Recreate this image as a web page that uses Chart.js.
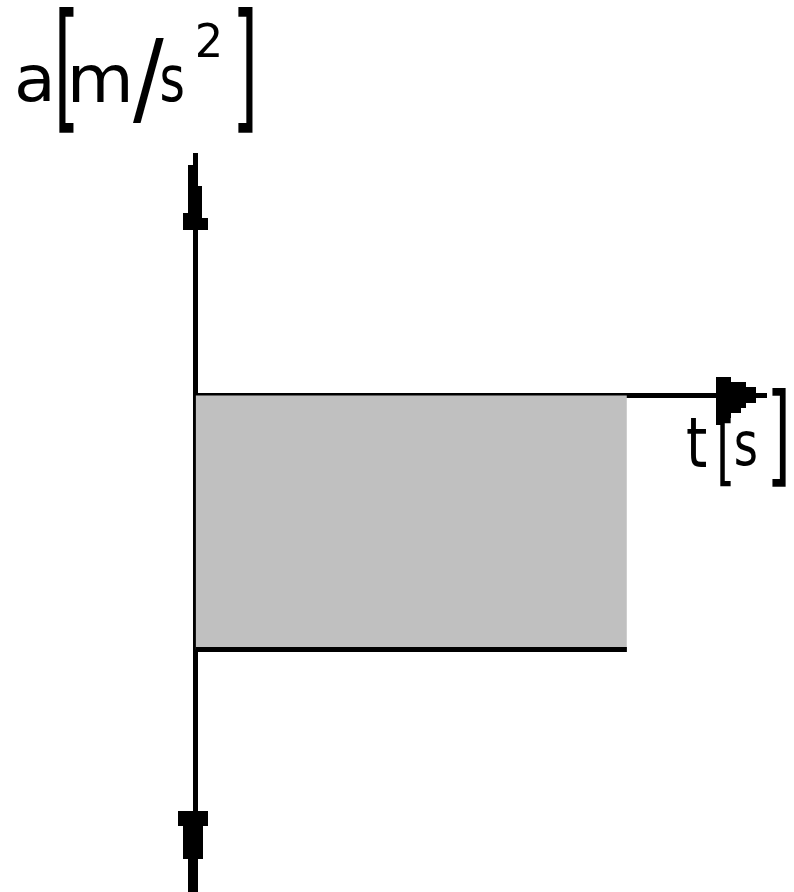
<!DOCTYPE html>
<html>
<head>
<meta charset="utf-8">
<script src="https://cdn.jsdelivr.net/npm/chart.js@4.4.1/dist/chart.umd.min.js"></script>
<style>
  body { margin: 0; background: #fff; }
  #wrap { width: 794px; height: 892px; position: relative; }
</style>
</head>
<body>
<div id="wrap"><canvas id="accelChart"></canvas></div>
<script>
// Data: constant (negative) acceleration over time
const timeValues = [0, 4];
const accelValues = [-2, -2];

// Axis ranges (t and a)
const tRange = [0, 5.29];
const aRange = [-3.91, 1.894];

const FILL_GRAY = '#c0c0c0';

// Draws a text so its ink fits the given box
function fitText(ctx, str, x0, y0, x1, y1, weight) {
    ctx.save();
    ctx.font = (weight || 'normal') + ' 100px "DejaVu Sans"';
    const m = ctx.measureText(str);
    const w = m.actualBoundingBoxLeft + m.actualBoundingBoxRight;
    const h = m.actualBoundingBoxAscent + m.actualBoundingBoxDescent;
    ctx.translate(x0, y0);
    ctx.scale((x1 - x0) / w, (y1 - y0) / h);
    ctx.textAlign = 'left';
    ctx.textBaseline = 'alphabetic';
    ctx.fillStyle = '#000';
    ctx.fillText(str, m.actualBoundingBoxLeft, m.actualBoundingBoxAscent);
    ctx.restore();
}

// Stepped arrow heads like the original bitmap (whole pixels, no seams)
function drawSteps(ctx, steps) {
    ctx.fillStyle = '#000';
    steps.forEach(s => {
        const x0 = Math.round(s[0]), x1 = Math.round(s[1]);
        const y0 = Math.round(s[2]), y1 = Math.round(s[3]);
        ctx.fillRect(x0, y0, x1 - x0, y1 - y0);
    });
}

const arrowsAndLabels = {
    id: 'arrowsAndLabels',
    afterDraw(chart) {
        const ctx = chart.ctx;
        const xs = chart.scales.x, ys = chart.scales.y;
        const cx = Math.floor(xs.getPixelForValue(0)) + 0.5;
        const cy = Math.floor(ys.getPixelForValue(0));
        const top = chart.chartArea.top;
        const bottom = chart.chartArea.bottom;
        const right = Math.round(chart.chartArea.right);

        // top arrow
        drawSteps(ctx, [
            [cx - 2.5, cx + 2.5, top, top + 10],
            [cx - 7.5, cx + 2.5, top + 10, top + 31],
            [cx - 7.5, cx + 6.5, top + 31, top + 58],
            [cx - 12.5, cx + 6.5, top + 58, top + 63],
            [cx - 12.5, cx + 12.5, top + 63, top + 75]
        ]);
        // bottom arrow
        drawSteps(ctx, [
            [cx - 17.5, cx + 12.5, bottom - 81, bottom - 66],
            [cx - 12.5, cx + 7.5, bottom - 66, bottom - 33],
            [cx - 7.5, cx + 2.5, bottom - 33, bottom]
        ]);
        // right arrow
        const ax = right - 50;
        drawSteps(ctx, [
            [ax, ax + 15, cy - 18, cy - 13],
            [ax, ax + 30, cy - 13, cy - 8],
            [ax, ax + 40, cy - 8, cy + 8],
            [ax, ax + 30, cy + 8, cy + 13],
            [ax, ax + 25, cy + 13, cy + 18],
            [ax, ax + 15, cy + 18, cy + 23],
            [ax, ax + 5, cy + 23, cy + 30]
        ]);

        // y label: a[m/s²]
        fitText(ctx, 'a', 18, 65, 50, 102);
        fitText(ctx, '[', 59, 6, 74, 132);
        fitText(ctx, 'm', 73, 65, 128, 102);
        fitText(ctx, '/', 133, 38, 164, 122);
        fitText(ctx, 's', 162, 65, 183, 102);
        fitText(ctx, '2', 198, 22, 219, 57);
        fitText(ctx, ']', 238, 6, 253, 132);

        // x label: t[s]
        fitText(ctx, 't', 687, 419, 706, 467);
        fitText(ctx, '[', 720, 418, 731, 486);
        fitText(ctx, 's', 736, 431, 756, 466);
        fitText(ctx, ']', 772, 388, 786, 486);
    }
};

const axisOpts = (min, max, pos) => ({
    type: 'linear',
    min: min,
    max: max,
    position: pos,
    z: 1,
    ticks: { display: false },
    grid: { display: false },
    border: { display: true, color: '#000', width: 5 }
});

const config = {
    type: 'line',
    data: {
        datasets: [{
            data: timeValues.map((t, i) => ({ x: t, y: accelValues[i] })),
            borderColor: '#000',
            borderWidth: 5,
            borderCapStyle: 'butt',
            backgroundColor: FILL_GRAY,
            fill: 'origin',
            pointRadius: 0,
            tension: 0
        }]
    },
    options: {
        responsive: true,
        maintainAspectRatio: false,
        animation: false,
        layout: { padding: { left: 195.5, right: 28, top: 155, bottom: 0 } },
        plugins: {
            legend: { display: false },
            tooltip: { enabled: false }
        },
        scales: {
            x: axisOpts(tRange[0], tRange[1], { y: 0 }),
            y: axisOpts(aRange[0], aRange[1], { x: 0 })
        }
    },
    plugins: [arrowsAndLabels]
};

new Chart(document.getElementById('accelChart'), config);
</script>
</body>
</html>
